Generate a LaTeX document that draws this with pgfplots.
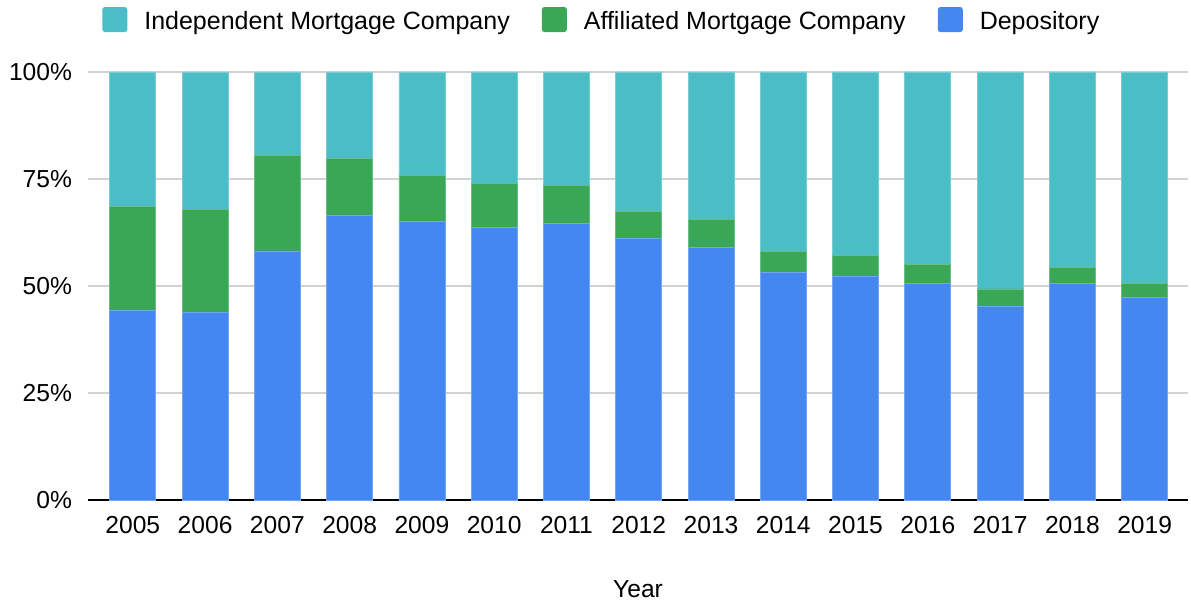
\documentclass[border=0pt]{standalone}
\usepackage{pgfplots}
\pgfplotsset{compat=1.18}
\usepackage{pgfplotstable}
\usepackage{fontspec}
\setmainfont{Liberation Sans}

\definecolor{indep}{HTML}{4BBDC6}
\definecolor{affil}{HTML}{3AA757}
\definecolor{depos}{HTML}{4587F0}

% shares in percent
\pgfplotstableread{
x year dep aff ind
0  2005 44.4 24.1 31.5
1  2006 43.9 24.0 32.1
2  2007 58.2 22.2 19.6
3  2008 66.6 13.2 20.2
4  2009 65.1 10.8 24.1
5  2010 63.6 10.3 26.1
6  2011 64.6 8.8  26.6
7  2012 61.1 6.3  32.6
8  2013 59.1 6.4  34.5
9  2014 53.2 4.9  41.9
10 2015 52.3 4.8  42.9
11 2016 50.6 4.5  44.9
12 2017 45.3 4.0  50.7
13 2018 50.7 3.6  45.7
14 2019 47.4 3.3  49.3
}\shares

\begin{document}
\begin{tikzpicture}
\begin{axis}[
    scale only axis,
    width=550pt, height=214pt,
    ybar stacked,
    bar width=23pt,
    xmin=-0.62, xmax=14.6,
    ymin=0, ymax=100,
    xtick={0,...,14},
    xticklabels={2005,2006,2007,2008,2009,2010,2011,2012,2013,2014,2015,2016,2017,2018,2019},
    ytick={0,25,50,75,100},
    yticklabel={\pgfmathprintnumber{\tick}\%},
    /pgf/number format/assume math mode=true,
    ymajorgrids,
    grid style={gray!35, line width=0.8pt},
    axis x line*=bottom,
    axis y line*=left,
    y axis line style={draw=none},
    x axis line style={black, line width=0.8pt, -},
    major tick length=0pt,
    tick label style={font=\fontsize{12.3}{14}\selectfont},
    xticklabel style={yshift=-4.8pt},
    yticklabel style={xshift=-4.5pt},
    xlabel={Year},
    xlabel style={font=\fontsize{12.3}{14}\selectfont, yshift=-16.5pt},
    legend style={
        at={(0.468,1.0)}, anchor=south, yshift=15.5pt,
        draw=none, fill=none,
        font=\fontsize{12.5}{14}\selectfont,
        column sep=6.5pt,
        /tikz/every even column/.append style={column sep=14pt},
    },
    legend columns=3,
    legend cell align=left,
    legend image code/.code={%
        \fill[#1, draw=none, rounded corners=1.3pt] (0pt,-5pt) rectangle (12.5pt,7.5pt);},
]
\addlegendimage{fill=indep, draw=none}
\addlegendentry{Independent Mortgage Company}
\addlegendimage{fill=affil, draw=none}
\addlegendentry{Affiliated Mortgage Company}
\addlegendimage{fill=depos, draw=none}
\addlegendentry{Depository}

\addplot[fill=depos, draw=depos!75!white, line width=0.4pt, forget plot] table[x=x, y=dep] {\shares};
\addplot[fill=affil, draw=affil!75!white, line width=0.4pt, forget plot] table[x=x, y=aff] {\shares};
\addplot[fill=indep, draw=indep!75!white, line width=0.4pt, forget plot] table[x=x, y=ind] {\shares};

\coordinate (sw) at (rel axis cs:0,0);
\coordinate (ne) at (rel axis cs:1,1);
\end{axis}
\pgfresetboundingbox
\path[use as bounding box] ([xshift=-44pt, yshift=-52.5pt]sw) rectangle ([xshift=1.5pt, yshift=36pt]ne);
\end{tikzpicture}
\end{document}
